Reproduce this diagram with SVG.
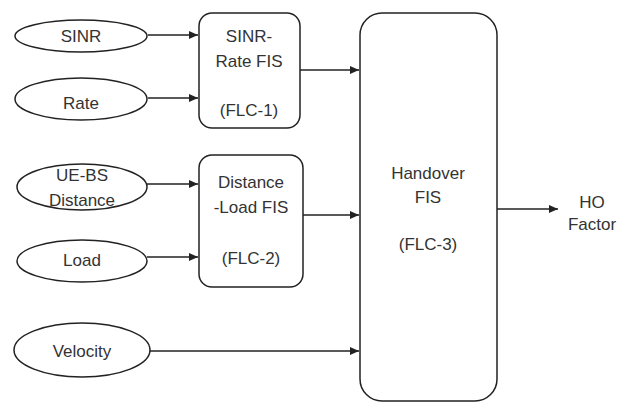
<svg xmlns="http://www.w3.org/2000/svg" width="628" height="403" viewBox="0 0 628 403">
<defs>
<marker id="ah" markerWidth="10" markerHeight="8" refX="9" refY="4" orient="auto" markerUnits="userSpaceOnUse">
<path d="M0,0 L9,4 L0,8 z" fill="#222"/>
</marker>
<style>
.s{fill:#fff;stroke:#222;stroke-width:1.5}
.c{fill:none;stroke:#222;stroke-width:1.5;marker-end:url(#ah)}
text{font-family:"Liberation Sans",Arial,sans-serif;font-size:17px;fill:#333;text-anchor:middle}
</style>
</defs>
<rect width="628" height="403" fill="#fff"/>
<g id="connectors">
<line class="c" x1="148" y1="35" x2="198" y2="35"/>
<line class="c" x1="148" y1="98" x2="198" y2="98"/>
<line class="c" x1="147" y1="184" x2="198" y2="184"/>
<line class="c" x1="147" y1="257" x2="198" y2="257"/>
<line class="c" x1="300" y1="70" x2="359" y2="70"/>
<line class="c" x1="303" y1="215" x2="359" y2="215"/>
<line class="c" x1="150" y1="351" x2="359" y2="351"/>
<line class="c" x1="497" y1="209" x2="558" y2="209"/>
</g>
<g id="sinr"><ellipse class="s" cx="81" cy="36" rx="66" ry="16"/><text x="81" y="42">SINR</text></g>
<g id="rate"><ellipse class="s" cx="81" cy="99" rx="66" ry="21"/><text x="81" y="109">Rate</text></g>
<g id="uebs"><ellipse class="s" cx="82" cy="187" rx="65" ry="23"/><text x="82" y="181">UE-BS</text><text x="82" y="206">Distance</text></g>
<g id="load"><ellipse class="s" cx="82" cy="261" rx="65" ry="21"/><text x="82" y="266">Load</text></g>
<g id="velocity"><ellipse class="s" cx="82" cy="350" rx="68" ry="27"/><text x="82" y="357">Velocity</text></g>
<g id="flc1"><rect class="s" x="199" y="13" width="101" height="115" rx="13"/><text x="249" y="42">SINR-</text><text x="249" y="67">Rate FIS</text><text x="249" y="116">(FLC-1)</text></g>
<g id="flc2"><rect class="s" x="199" y="155" width="104" height="132" rx="13"/><text x="251" y="188">Distance</text><text x="251" y="213">-Load FIS</text><text x="251" y="264">(FLC-2)</text></g>
<g id="flc3"><rect class="s" x="360" y="13" width="137" height="388" rx="22"/><text x="428" y="179">Handover</text><text x="428" y="203">FIS</text><text x="428" y="250">(FLC-3)</text></g>
<g id="ho"><text x="592" y="208">HO</text><text x="592" y="230">Factor</text></g>
</svg>
